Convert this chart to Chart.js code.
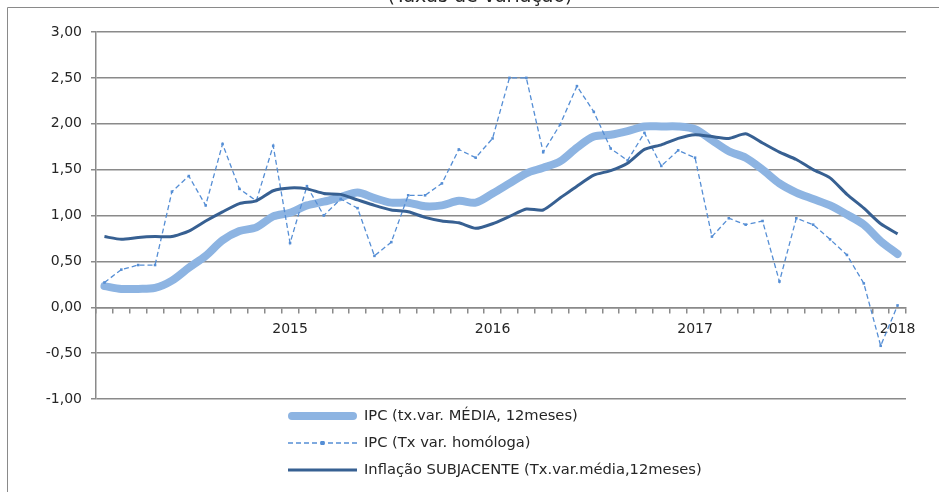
<!DOCTYPE html>
<html>
<head>
<meta charset="utf-8">
<script src="https://cdn.jsdelivr.net/npm/chart.js@4"></script>
<style>
  html, body { margin: 0; padding: 0; background: #fff; }
  #wrap { width: 939px; height: 492px; position: relative; }
</style>
</head>
<body>
<div id="wrap"><canvas id="IPCCHART"></canvas></div>
<script>
const months = [
  '2014-02','2014-03','2014-04','2014-05','2014-06','2014-07','2014-08','2014-09','2014-10','2014-11','2014-12',
  '2015-01','2015-02','2015-03','2015-04','2015-05','2015-06','2015-07','2015-08','2015-09','2015-10','2015-11','2015-12',
  '2016-01','2016-02','2016-03','2016-04','2016-05','2016-06','2016-07','2016-08','2016-09','2016-10','2016-11','2016-12',
  '2017-01','2017-02','2017-03','2017-04','2017-05','2017-06','2017-07','2017-08','2017-09','2017-10','2017-11','2017-12',
  '2018-01'
];

// IPC (tx.var. média 12 meses)
const ipc_media = [
  0.23, 0.20, 0.20, 0.21, 0.29, 0.43, 0.56, 0.73, 0.83, 0.87, 0.99,
  1.03, 1.11, 1.15, 1.20, 1.25, 1.19, 1.14, 1.14, 1.10, 1.11, 1.16, 1.14,
  1.24, 1.35, 1.46, 1.52, 1.59, 1.74, 1.86, 1.88, 1.92, 1.97, 1.97, 1.97,
  1.94, 1.82, 1.70, 1.63, 1.50, 1.35, 1.25, 1.18, 1.11, 1.01, 0.90, 0.72,
  0.58
];

// IPC (tx var. homóloga)
const ipc_homologa = [
  0.27, 0.41, 0.46, 0.46, 1.26, 1.43, 1.11, 1.78, 1.29, 1.16, 1.76,
  0.70, 1.32, 1.00, 1.18, 1.08, 0.56, 0.71, 1.22, 1.22, 1.35, 1.72, 1.63,
  1.84, 2.50, 2.50, 1.69, 1.99, 2.41, 2.13, 1.73, 1.60, 1.90, 1.54, 1.71,
  1.63, 0.77, 0.97, 0.90, 0.94, 0.28, 0.97, 0.90, 0.74, 0.57, 0.26, -0.42,
  0.02
];

// Inflação subjacente (tx.var. média 12 meses)
const subjacente = [
  0.77, 0.74, 0.76, 0.77, 0.77, 0.83, 0.94, 1.04, 1.13, 1.16, 1.27,
  1.30, 1.29, 1.24, 1.23, 1.17, 1.11, 1.06, 1.04, 0.98, 0.94, 0.92, 0.86,
  0.91, 0.99, 1.07, 1.06, 1.19, 1.32, 1.44, 1.49, 1.57, 1.72, 1.77, 1.84,
  1.88, 1.86, 1.84, 1.89, 1.79, 1.69, 1.61, 1.50, 1.41, 1.23, 1.08, 0.91,
  0.80
];

const series_names = [
  'IPC (tx.var. MÉDIA, 12meses)',
  'IPC (Tx var. homóloga)',
  'Inflação SUBJACENTE (Tx.var.média,12meses)'
];

const title_text = '(Taxas de variação)';
const grid_color = '#8a8a8a';
const txt_color = '#262626';

// frame, cut-off title and the vertical legend under the plot
const extras = {
  id: 'extras',
  beforeDraw(chart) {
    const c = chart.ctx;
    c.save();
    c.strokeStyle = grid_color;
    c.lineWidth = 1;
    c.beginPath();
    c.moveTo(7.5, 492);
    c.lineTo(7.5, 7.5);
    c.lineTo(939, 7.5);
    c.stroke();
    c.fillStyle = txt_color;
    c.font = '19px "DejaVu Sans"';
    c.textAlign = 'center';
    c.textBaseline = 'alphabetic';
    c.fillText(title_text, 480, 2);
    c.restore();
  },
  afterDraw(chart) {
    const c = chart.ctx;
    const rows = [416, 443, 470];
    c.save();
    chart.data.datasets.forEach((ds, i) => {
      const y = rows[i];
      c.strokeStyle = ds.borderColor;
      c.lineWidth = ds.borderWidth;
      c.lineCap = i === 0 ? 'round' : 'butt';
      c.setLineDash(ds.borderDash || []);
      c.beginPath();
      c.moveTo(i === 0 ? 292 : 288, y);
      c.lineTo(i === 0 ? 353 : 357, y);
      c.stroke();
      c.setLineDash([]);
      if (ds.pointRadius > 0) {
        c.fillStyle = ds.borderColor;
        c.fillRect(322.5 - 2, y - 2, 4, 4);
      }
      c.fillStyle = txt_color;
      c.font = '14.7px "DejaVu Sans"';
      c.textAlign = 'left';
      c.textBaseline = 'middle';
      c.fillText(ds.label, 364, y);
    });
    c.restore();
  }
};

const ctx = document.getElementById('IPCCHART');

const ipc_chart = new Chart(ctx, {
  type: 'line',
  data: {
    labels: months,
    datasets: [{
      label: series_names[0],
      data: ipc_media,
      borderColor: '#8db4e2',
      borderWidth: 8,
      borderCapStyle: 'round',
      borderJoinStyle: 'round',
      pointRadius: 0,
      tension: 0.3,
      order: 3
    }, {
      label: series_names[1],
      data: ipc_homologa,
      borderColor: '#558ed5',
      backgroundColor: '#558ed5',
      borderWidth: 1.3,
      borderDash: [5, 3],
      pointStyle: 'rect',
      pointRadius: 1.8,
      pointBorderWidth: 0,
      tension: 0,
      order: 2
    }, {
      label: series_names[2],
      data: subjacente,
      borderColor: '#376092',
      borderWidth: 3,
      borderJoinStyle: 'round',
      pointRadius: 0,
      tension: 0.2,
      order: 1
    }]
  },
  options: {
    responsive: true,
    maintainAspectRatio: false,
    animation: false,
    layout: {
      padding: { left: 0, right: 33, top: 32, bottom: 93 }
    },
    scales: {
      x: {
        type: 'category',
        offset: true,
        position: { y: 0 },
        grid: {
          offset: true,
          drawOnChartArea: false,
          drawTicks: true,
          tickLength: 5,
          color: grid_color,
          lineWidth: 1.5
        },
        border: { display: true, color: grid_color, width: 1.5 },
        ticks: {
          autoSkip: false,
          maxRotation: 0,
          padding: 9,
          color: txt_color,
          font: { family: 'DejaVu Sans', size: 14 },
          callback: function (val) {
            const m = this.getLabelForValue(val);
            return m.endsWith('-01') ? m.slice(0, 4) : '';
          }
        }
      },
      y: {
        min: -1,
        max: 3,
        afterFit(scale) { scale.width = 96; },
        grid: {
          color: grid_color,
          lineWidth: 1.5,
          tickLength: 5
        },
        border: { display: true, color: grid_color, width: 1.5 },
        ticks: {
          stepSize: 0.5,
          padding: 9,
          color: txt_color,
          font: { family: 'DejaVu Sans', size: 14 },
          callback: (v) => v.toFixed(2).replace('.', ',')
        }
      }
    },
    plugins: {
      legend: { display: false },
      tooltip: { enabled: false }
    }
  },
  plugins: [extras]
});
</script>
</body>
</html>
